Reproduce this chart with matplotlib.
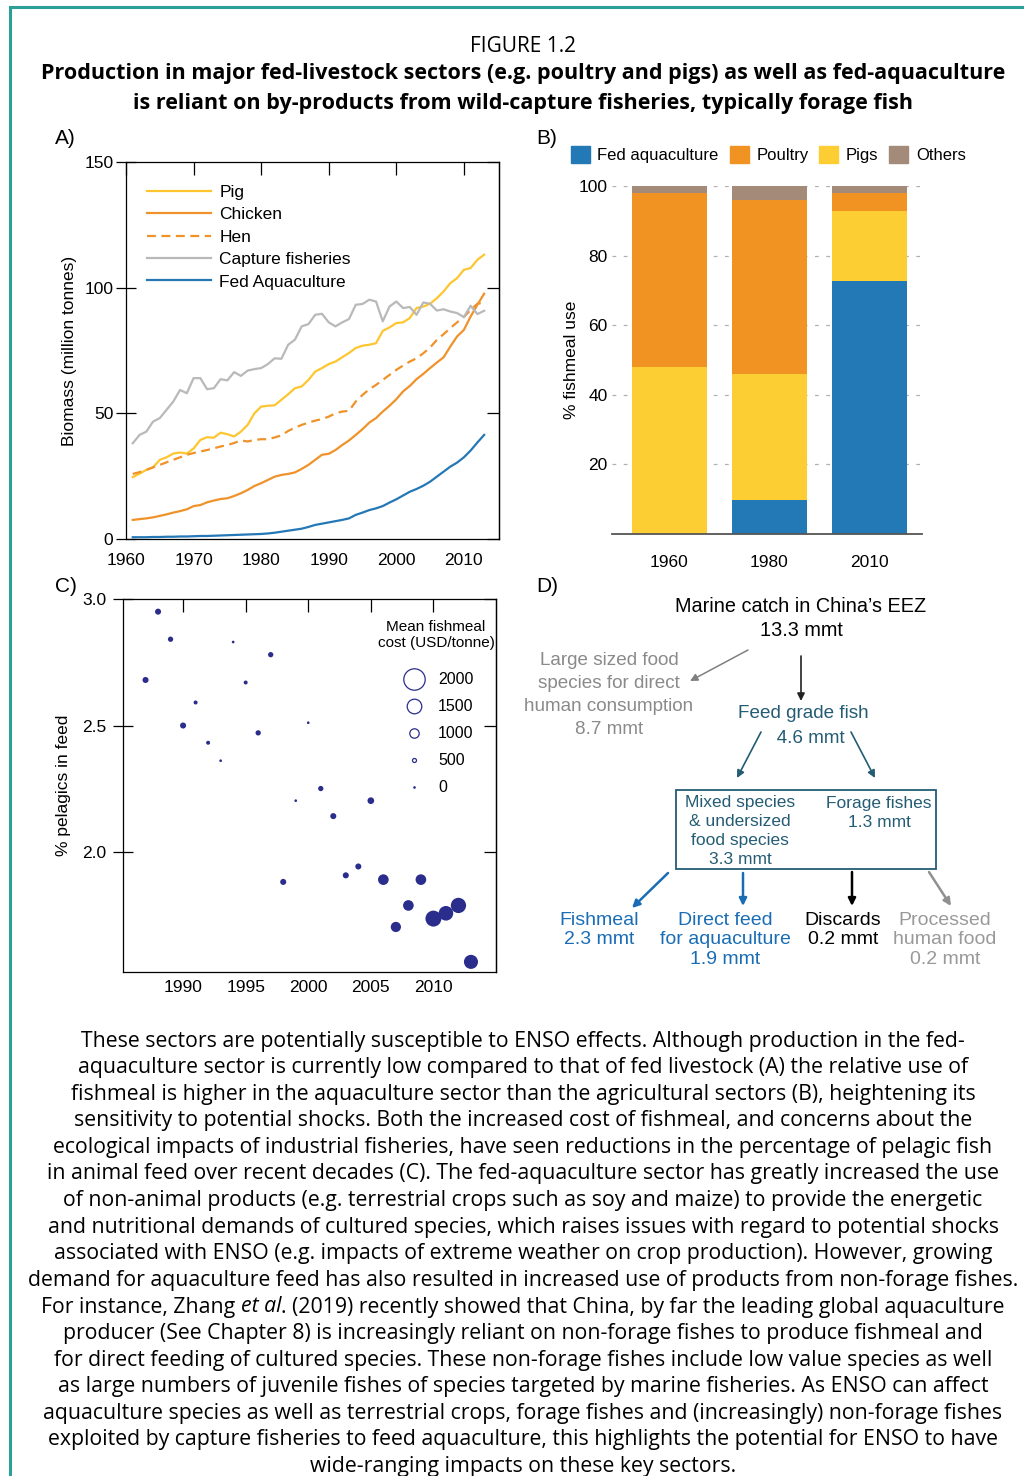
import matplotlib

matplotlib.use("Agg")
import matplotlib.pyplot as plt
import numpy as np
from matplotlib.lines import Line2D
from matplotlib.patches import Rectangle, Patch

W, H = 1024, 1476

# ---- panel A: biomass series (million tonnes), 1961-2013
years_a = np.arange(1961, 2014)
pig = [24.6, 26.0, 27.5, 28.5, 31.5, 32.5, 34.0, 34.4, 34.0, 36.0,
       39.4, 40.5, 40.3, 42.3, 41.7, 40.8, 42.7, 45.4, 50.0, 52.7,
       53.0, 53.2, 55.4, 57.6, 60.0, 60.7, 63.3, 66.6, 68.0, 69.6,
       70.6, 72.3, 74.0, 76.0, 76.9, 77.3, 77.9, 82.8, 84.2, 85.9,
       86.2, 87.9, 91.9, 92.5, 93.6, 95.8, 98.5, 101.8, 103.8, 107.1,
       107.8, 111.1, 113.1]
chicken = [7.6, 7.9, 8.2, 8.6, 9.2, 9.8, 10.5, 11.1, 11.8, 13.1,
           13.5, 14.6, 15.3, 15.9, 16.2, 17.1, 18.2, 19.5, 21.1, 22.2,
           23.5, 24.8, 25.5, 25.9, 26.5, 27.9, 29.5, 31.5, 33.5, 33.9,
           35.4, 37.4, 39.2, 41.4, 43.7, 46.3, 48.1, 50.7, 53.0, 55.6,
           58.7, 60.9, 63.6, 65.7, 68.0, 70.2, 72.3, 76.6, 80.6, 83.2,
           88.5, 93.2, 97.6]
hen = [25.9, 26.6, 27.5, 28.5, 29.5, 30.5, 31.5, 32.5, 33.5, 34.2,
       34.8, 35.4, 36.1, 36.8, 37.4, 38.2, 39.2, 38.8, 39.4, 39.7,
       39.7, 40.4, 41.2, 43.0, 44.3, 45.4, 46.3, 47.1, 47.7, 48.7,
       50.0, 50.7, 51.0, 54.7, 57.3, 59.6, 61.3, 63.3, 65.3, 67.3,
       69.0, 70.6, 71.9, 73.9, 76.2, 79.2, 81.5, 83.9, 86.2, 88.3,
       91.2, 93.6, 94.1]
capture = [38.1, 41.4, 42.7, 46.7, 48.1, 51.4, 54.7, 59.3, 58.0, 64.0,
           64.0, 59.6, 60.0, 63.6, 63.1, 66.4, 64.9, 67.0, 67.6, 68.0,
           69.6, 71.9, 71.7, 77.3, 79.3, 84.6, 85.5, 89.2, 89.6, 86.2,
           84.6, 86.2, 87.5, 93.2, 93.5, 95.2, 94.5, 86.6, 92.5, 94.5,
           91.9, 92.3, 89.2, 94.1, 93.6, 90.9, 91.4, 90.5, 89.9, 88.3,
           92.8, 89.5, 90.8]
fed_aqua = [0.7, 0.7, 0.7, 0.8, 0.8, 0.9, 0.9, 1.0, 1.0, 1.1,
            1.2, 1.2, 1.3, 1.4, 1.5, 1.6, 1.7, 1.8, 1.9, 2.0,
            2.2, 2.5, 2.9, 3.3, 3.7, 4.1, 4.8, 5.6, 6.1, 6.6,
            7.1, 7.6, 8.2, 9.6, 10.5, 11.5, 12.2, 13.1, 14.5, 15.8,
            17.3, 18.8, 19.9, 21.2, 22.8, 24.8, 26.8, 28.8, 30.4, 32.5,
            35.2, 38.4, 41.4]

# ---- panel B: % fishmeal use
bar_years = ["1960", "1980", "2010"]
share_fed = [0.0, 9.7, 72.7]
share_pigs = [48.0, 36.3, 20.2]
share_poultry = [50.1, 50.1, 5.2]
share_others = [1.9, 3.9, 1.9]

# ---- panel C: % pelagics in feed, mean fishmeal cost
years_c = np.arange(1987, 2014)
pelagics = [2.680, 2.950, 2.841, 2.500, 2.591, 2.432, 2.361, 2.830, 2.670, 2.471,
            2.780, 1.882, 2.203, 2.511, 2.251, 2.142, 1.908, 1.943, 2.203, 1.891,
            1.704, 1.789, 1.891, 1.737, 1.758, 1.789, 1.566]
cost = [690, 690, 620, 690, 500, 500, 250, 250, 500, 620,
        620, 690, 250, 250, 620, 690, 690, 690, 750, 1120,
        1080, 1120, 1120, 1600, 1500, 1550, 1450]
cost_legend = [2000, 1500, 1000, 500, 0]

body_lines = [
    "These sectors are potentially susceptible to ENSO effects. Although production in the fed-",
    "aquaculture sector is currently low compared to that of fed livestock (A) the relative use of",
    "fishmeal is higher in the aquaculture sector than the agricultural sectors (B), heightening its",
    "sensitivity to potential shocks. Both the increased cost of fishmeal, and concerns about the",
    "ecological impacts of industrial fisheries, have seen reductions in the percentage of pelagic fish",
    "in animal feed over recent decades (C). The fed-aquaculture sector has greatly increased the use",
    "of non-animal products (e.g. terrestrial crops such as soy and maize) to provide the energetic",
    "and nutritional demands of cultured species, which raises issues with regard to potential shocks",
    "associated with ENSO (e.g. impacts of extreme weather on crop production). However, growing",
    "demand for aquaculture feed has also resulted in increased use of products from non-forage fishes.",
    ("For instance, Zhang ", "et al", ". (2019) recently showed that China, by far the leading global aquaculture"),
    "producer (See Chapter 8) is increasingly reliant on non-forage fishes to produce fishmeal and",
    "for direct feeding of cultured species. These non-forage fishes include low value species as well",
    "as large numbers of juvenile fishes of species targeted by marine fisheries. As ENSO can affect",
    "aquaculture species as well as terrestrial crops, forage fishes and (increasingly) non-forage fishes",
    "exploited by capture fisheries to feed aquaculture, this highlights the potential for ENSO to have",
    "wide-ranging impacts on these key sectors.",
]

PANEL_FONT = "Liberation Sans"
BODY_FONT = "Open Sans"
plt.rcParams["font.family"] = PANEL_FONT


def rect(left, top, right, bottom):
    return [left / W, 1 - bottom / H, (right - left) / W, (bottom - top) / H]


def radius_px(c):
    # size scale of the bubble legend (radius in pixels)
    return np.interp(c, [0, 500, 1000, 1500, 2000], [0.7, 2.0, 4.7, 7.3, 10.7])


def frame_ticks(ax, left_len, left_pad, lab_size=12.5, x_pad=10):
    # left ticks cross the spine, top/right ticks point inward, no bottom ticks
    ax.tick_params(axis="y", direction="inout", length=left_len, width=0.9, labelsize=lab_size,
                   pad=left_pad, right=False)
    ax.tick_params(axis="x", direction="in", length=9, width=0.9, labelsize=lab_size,
                   bottom=False, top=True, pad=x_pad)
    sec = ax.secondary_yaxis("right")
    sec.set_yticks(ax.get_yticks())
    sec.tick_params(direction="in", length=9, width=0.9, labelright=False)
    sec.spines["right"].set_linewidth(0.9)
    for s in ax.spines.values():
        s.set_linewidth(0.9)


fig = plt.figure(figsize=(W / 100, H / 100), dpi=100)

# ---------------- A
ax = fig.add_axes(rect(126, 162, 499, 539))
ax.plot(years_a, pig, color="#fdc62f", lw=1.6, label="Pig")
ax.plot(years_a, chicken, color="#f0922a", lw=1.6, label="Chicken")
ax.plot(years_a, hen, color="#f0922a", lw=1.6, ls=(0, (4, 2.5)), label="Hen")
ax.plot(years_a, capture, color="#b9b9b9", lw=1.6, label="Capture fisheries")
ax.plot(years_a, fed_aqua, color="#2478b5", lw=1.6, label="Fed Aquaculture")
ax.set_xlim(1960, 2015.2)
ax.set_ylim(0, 150)
ax.set_xticks(range(1960, 2011, 10))
ax.set_yticks([0, 50, 100, 150])
frame_ticks(ax, left_len=14, left_pad=2, x_pad=10)
ax.set_ylabel("Biomass (million tonnes)", fontsize=12.5, labelpad=5)
ax.legend(loc="upper left", bbox_to_anchor=(0.055, 0.94), frameon=False, fontsize=12.5,
          handlelength=3.7, handletextpad=0.5, labelspacing=0.42, borderpad=0, borderaxespad=0)

# ---------------- B
ax = fig.add_axes(rect(612, 186, 922, 534))
xb = np.arange(len(bar_years))
bottom = np.zeros(len(bar_years))
b_series = [("Fed aquaculture", share_fed, "#2279b5"), ("Pigs", share_pigs, "#fdcd34"),
            ("Poultry", share_poultry, "#f09322"), ("Others", share_others, "#a38a79")]
colors_b = {}
for name, vals, col in b_series:
    ax.bar(xb, vals, bottom=bottom, width=0.75, color=col, zorder=2, label=name)
    colors_b[name] = col
    bottom += np.array(vals)
ax.set_xlim(-0.573, 2.527)
ax.set_ylim(0, 100)
ax.set_yticks([20, 40, 60, 80, 100])
ax.grid(axis="y", color="#b0b0b0", ls=(0, (3, 6)), lw=0.9, zorder=0)
ax.set_xticks(xb)
ax.set_xticklabels(bar_years)
ax.tick_params(length=0, labelsize=12.5, pad=3)
ax.tick_params(axis="x", pad=15)
for side in ("left", "right", "top"):
    ax.spines[side].set_visible(False)
ax.spines["bottom"].set_color("#555555")
ax.spines["bottom"].set_linewidth(1.3)
ax.set_ylabel("% fishmeal use", fontsize=12.5, labelpad=0)
order = ["Fed aquaculture", "Poultry", "Pigs", "Others"]
ax.legend([Patch(color=colors_b[n]) for n in order], order,
          loc="lower left", bbox_to_anchor=(-0.133, 1.065), ncol=4, frameon=False,
          fontsize=12, handlelength=1.15, handleheight=1.15, handletextpad=0.45,
          columnspacing=0.65, borderpad=0, borderaxespad=0)

# ---------------- C
ax = fig.add_axes(rect(123, 599, 496, 972))
dot = "#2b2d8c"
sizes = (2 * radius_px(np.array(cost)) * 0.72) ** 2
ax.scatter(years_c, pelagics, s=sizes, color=dot, lw=0)
ax.set_xlim(1985.2, 2015)
ax.set_ylim(1.526, 3.0)
ax.set_xticks(range(1990, 2011, 5))
ax.set_yticks([2.0, 2.5, 3.0])
ax.set_yticklabels(["2.0", "2.5", "3.0"])
frame_ticks(ax, left_len=14, left_pad=5, x_pad=6)
ax.set_ylabel("% pelagics in feed", fontsize=12.5, labelpad=8)
leg_handles = [Line2D([], [], ls="none", marker="o", markerfacecolor="none", markeredgecolor=dot,
                      markeredgewidth=0.9, markersize=2 * radius_px(c) * 0.72) for c in cost_legend]
leg = ax.legend(leg_handles, [str(c) for c in cost_legend], title="Mean fishmeal\ncost (USD/tonne)",
                loc="upper right", bbox_to_anchor=(1.0, 0.948), frameon=False, fontsize=11.5,
                title_fontsize=11, labelspacing=0.75, handletextpad=0.5, borderpad=0, borderaxespad=0.1)
leg.get_title().set_multialignment("center")
leg._legend_box.sep = 16

# ---------------- overlay: titles, panel letters, panel D, body text
ov = fig.add_axes([0, 0, 1, 1])
ov.set_xlim(0, W)
ov.set_ylim(H, 0)
ov.axis("off")
ov.patch.set_visible(False)

teal_border = "#2c9f99"
ov.plot([10, 10, W], [H, 7, 7], color=teal_border, lw=2.2, solid_joinstyle="miter")

ov.text(523, 46, "FIGURE 1.2", ha="center", va="center", fontsize=15, family=BODY_FONT)
ov.text(523, 74, "Production in major fed-livestock sectors (e.g. poultry and pigs) as well as fed-aquaculture",
        ha="center", va="center", fontsize=15.5, family=BODY_FONT, weight="bold")
ov.text(523, 103, "is reliant on by-products from wild-capture fisheries, typically forage fish",
        ha="center", va="center", fontsize=15.5, family=BODY_FONT, weight="bold")

for lab, x, y in [("A)", 55, 139), ("B)", 536, 139), ("C)", 55, 587), ("D)", 536, 587)]:
    ov.text(x, y, lab, ha="left", va="center", fontsize=15)

# panel D flow chart
teal = "#245c74"
blue = "#1a6db5"
grey = "#8a8a8a"
ov.text(801, 607, "Marine catch in China\u2019s EEZ", ha="center", va="center", fontsize=14.3)
ov.text(801, 631, "13.3 mmt", ha="center", va="center", fontsize=14.3)
ov.text(609, 695, "Large sized food\nspecies for direct\nhuman consumption\n8.7 mmt", ha="center",
        va="center", fontsize=13.6, color=grey, linespacing=1.48)
ov.text(803, 726, "Feed grade fish\n   4.6 mmt", ha="center", va="center", fontsize=13.6,
        color=teal, linespacing=1.6)
ov.add_patch(Rectangle((676, 790), 260, 79, fill=False, edgecolor=teal, lw=1.3))
ov.text(740, 831, "Mixed species\n& undersized\nfood species\n3.3 mmt", ha="center", va="center",
        fontsize=12.5, color=teal, linespacing=1.32)
ov.text(879, 813, "Forage fishes\n1.3 mmt", ha="center", va="center", fontsize=12.5, color=teal,
        linespacing=1.37)
fs_bot = 14
ov.text(599, 930, "Fishmeal\n2.3 mmt", ha="center", va="center", fontsize=fs_bot, color=blue,
        linespacing=1.22)
ov.text(725, 940, "Direct feed\nfor aquaculture\n1.9 mmt", ha="center", va="center", fontsize=fs_bot,
        color=blue, linespacing=1.22)
ov.text(843, 930, "Discards\n0.2 mmt", ha="center", va="center", fontsize=fs_bot, color="black",
        linespacing=1.22)
ov.text(945, 940, "Processed\nhuman food\n0.2 mmt", ha="center", va="center", fontsize=fs_bot,
        color="#999999", linespacing=1.22)

arrows = [((748, 650), (690, 681), "#808080", 1.1),
          ((801, 656), (801, 701), "#222222", 1.2),
          ((761, 732), (737, 778), teal, 1.2),
          ((851, 732), (875, 778), teal, 1.2),
          ((668, 873), (632, 908), blue, 1.8),
          ((743, 873), (743, 906), blue, 1.8),
          ((852, 872), (852, 906), "black", 1.8),
          ((929, 872), (951, 906), "#909090", 1.8)]
for start, end, col, lw in arrows:
    ov.annotate("", xy=end, xytext=start,
                arrowprops=dict(arrowstyle="-|>", color=col, lw=lw, mutation_scale=11,
                                shrinkA=0, shrinkB=0))

# body text
fs_body = 15.3
renderer = fig.canvas.get_renderer()
y0, dy = 1041, 26.6
for i, line in enumerate(body_lines):
    y = y0 + i * dy
    if isinstance(line, str):
        ov.text(523, y, line, ha="center", va="center", fontsize=fs_body, family=BODY_FONT)
    else:
        parts = []
        for j, piece in enumerate(line):
            t = ov.text(0, y, piece, ha="left", va="center", fontsize=fs_body, family=BODY_FONT,
                        style="italic" if j == 1 else "normal")
            parts.append(t)
        widths = [t.get_window_extent(renderer).width for t in parts]
        x = 523 - sum(widths) / 2
        for t, w in zip(parts, widths):
            t.set_x(x)
            x += w

fig.savefig("out.png", dpi=100)
